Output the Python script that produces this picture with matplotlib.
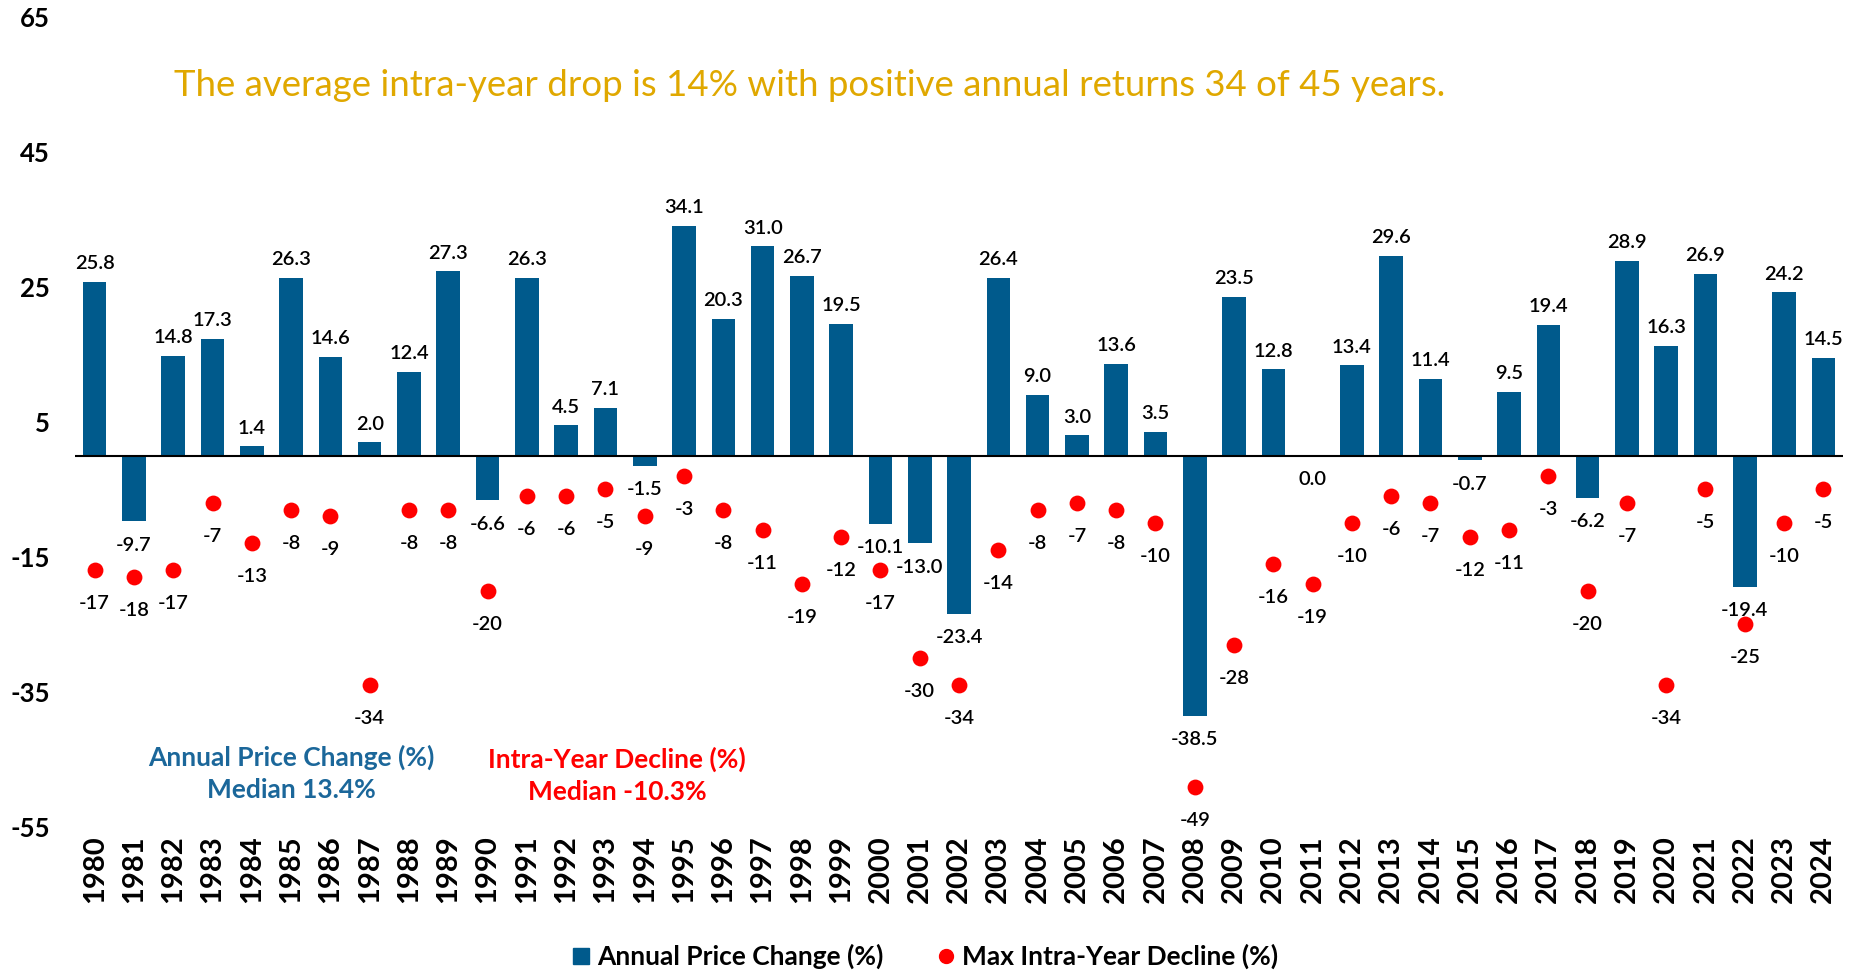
import matplotlib
matplotlib.use("Agg")
import matplotlib.pyplot as plt
import numpy as np
from matplotlib.lines import Line2D

plt.rcParams['font.family'] = ['Lato', 'DejaVu Sans']

years = list(range(1980, 2025))
annual_change = [25.8, -9.7, 14.8, 17.3, 1.4, 26.3, 14.6, 2.0, 12.4, 27.3,
                 -6.6, 26.3, 4.5, 7.1, -1.5, 34.1, 20.3, 31.0, 26.7, 19.5,
                 -10.1, -13.0, -23.4, 26.4, 9.0, 3.0, 13.6, 3.5, -38.5, 23.5,
                 12.8, 0.0, 13.4, 29.6, 11.4, -0.7, 9.5, 19.4, -6.2, 28.9,
                 16.3, 26.9, -19.4, 24.2, 14.5]
intra_decline = [-17, -18, -17, -7, -13, -8, -9, -34, -8, -8,
                 -20, -6, -6, -5, -9, -3, -8, -11, -19, -12,
                 -17, -30, -34, -14, -8, -7, -8, -10, -49, -28,
                 -16, -19, -10, -6, -7, -12, -11, -3, -20, -7,
                 -34, -5, -25, -10, -5]
y_ticks = [-55, -35, -15, 5, 25, 45, 65]

bar_color = '#005A8C'
dot_color = '#FF0000'

fig = plt.figure(figsize=(18.62, 9.71), dpi=100)
ax = fig.add_axes([0.0403, 0.1483, 0.9495, 0.8342])

x = np.arange(len(years))
ax.bar(x, annual_change, width=0.6, color=bar_color, zorder=2)
ax.scatter(x, intra_decline, s=130, color=dot_color, zorder=3, linewidths=0)
ax.axhline(0, color='black', linewidth=1.5, zorder=4)

# bar labels
for xi, v in zip(x, annual_change):
    if v > 0:
        ax.annotate(f'{v:.1f}', (xi, v), xytext=(0, 7), textcoords='offset points',
                    ha='center', va='bottom', fontsize=14.5, fontweight='semibold')
    else:
        ax.annotate(f'{v:.1f}', (xi, v), xytext=(0, -11), textcoords='offset points',
                    ha='center', va='top', fontsize=14.5, fontweight='semibold')

# dot labels
for xi, v in zip(x, intra_decline):
    ax.annotate(f'{v}', (xi, v), xytext=(0, -18), textcoords='offset points',
                ha='center', va='top', fontsize=14.5, fontweight='semibold')

ax.set_xlim(-0.5, len(years) - 0.5)
ax.set_ylim(-55, 65)
ax.set_yticks(y_ticks)
ax.set_yticklabels([str(t) for t in y_ticks], fontsize=18.5, fontweight='bold')
ax.set_xticks(x)
ax.set_xticklabels([str(y) for y in years], rotation=90, fontsize=21,
                   fontweight='bold')
ax.tick_params(axis='both', length=0)
ax.tick_params(axis='x', pad=6)
ax.tick_params(axis='y', pad=18)
for s in ax.spines.values():
    s.set_visible(False)

ax.text(5, -47, 'Annual Price Change (%)\nMedian 13.4%', color='#1B679A',
        ha='center', va='center', fontsize=19, fontweight='bold', linespacing=1.4)
ax.text(13.3, -47.3, 'Intra-Year Decline (%)\nMedian -10.3%', color=dot_color,
        ha='center', va='center', fontsize=19, fontweight='bold', linespacing=1.4)

fig.text(0.435, 0.912, 'The average intra-year drop is 14% with positive annual returns 34 of 45 years.',
         color='#E0A800', ha='center', va='center', fontsize=26.4)

handles = [Line2D([], [], marker='s', linestyle='', color=bar_color, markersize=12),
           Line2D([], [], marker='o', linestyle='', color=dot_color, markersize=10)]
fig.legend(handles, ['Annual Price Change (%)', 'Max Intra-Year Decline (%)'],
           loc='center', bbox_to_anchor=(0.495, 0.015), ncol=2, frameon=False,
           prop={'size': 19, 'weight': 'bold'}, handletextpad=0.0,
           columnspacing=1.8, handlelength=1.2)

fig.savefig('out.png', dpi=100)
